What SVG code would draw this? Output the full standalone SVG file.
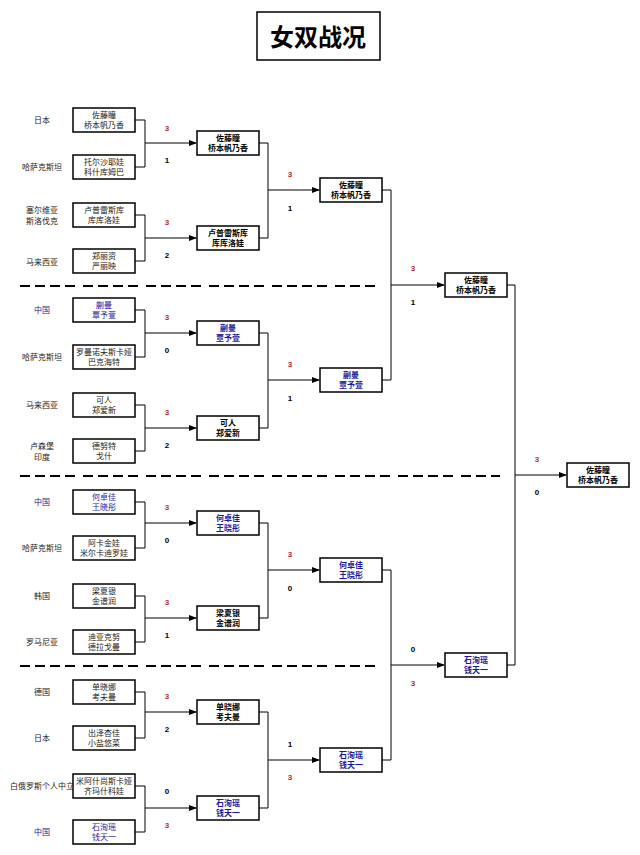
<svg xmlns="http://www.w3.org/2000/svg" width="640" height="855" viewBox="0 0 640 855">
<style>
text{font-family:"Liberation Sans","Noto Sans CJK SC",sans-serif;font-size:8px;text-anchor:middle}
.b{fill:#fff;stroke:#000;stroke-width:1.5}
.n{fill:#222}
.bl{fill:#1a1aa0}
.w{font-weight:bold}
.r{fill:#c0282a;font-weight:bold}
.k{fill:#000;font-weight:bold}
.c{fill:none;stroke:#000;stroke-width:1}
.d{stroke:#000;stroke-width:2;stroke-dasharray:10 5 10 5 10 5 10 8}
</style>
<defs><marker id="a" markerWidth="8" markerHeight="8" refX="7" refY="4" orient="auto" markerUnits="userSpaceOnUse"><path d="M0,1 L8,4 L0,7z" fill="#000"/></marker></defs>
<rect x="257" y="12" width="123" height="48" fill="#fff" stroke="#000" stroke-width="1.5"/>
<text x="318" y="46" style="font-size:24px;font-weight:bold">女双战况</text>
<g id="sep"><line class="d" x1="20" y1="286" x2="377" y2="286"/><line class="d" x1="20" y1="476" x2="500" y2="476"/><line class="d" x1="20" y1="666" x2="377" y2="666"/></g>
<g id="countries">
<text x="42" y="123" class="n">日本</text>
<text x="42" y="170" class="n">哈萨克斯坦</text>
<text x="42" y="213" class="n">塞尔维亚</text><text x="42" y="224" class="n">斯洛伐克</text>
<text x="42" y="265" class="n">马来西亚</text>
<text x="42" y="313" class="bl">中国</text>
<text x="42" y="360" class="n">哈萨克斯坦</text>
<text x="42" y="408" class="n">马来西亚</text>
<text x="42" y="449" class="n">卢森堡</text><text x="42" y="460" class="n">印度</text>
<text x="42" y="505" class="bl">中国</text>
<text x="42" y="551" class="n">哈萨克斯坦</text>
<text x="42" y="599" class="n">韩国</text>
<text x="42" y="645" class="n">罗马尼亚</text>
<text x="42" y="695" class="n">德国</text>
<text x="42" y="741" class="n">日本</text>
<text x="42" y="789" class="n">白俄罗斯个人中立</text>
<text x="42" y="835" class="bl">中国</text>
</g>
<g id="connectors">
<path class="c" d="M135,120H145V167H135M145,143H196" marker-end="url(#a)"/>
<path class="c" d="M135,215H145V261H135M145,238H196" marker-end="url(#a)"/>
<path class="c" d="M135,310H145V357H135M145,333H196" marker-end="url(#a)"/>
<path class="c" d="M135,405H145V451H135M145,428H196" marker-end="url(#a)"/>
<path class="c" d="M135,502H145V548H135M145,523H196" marker-end="url(#a)"/>
<path class="c" d="M135,596H145V642H135M145,618H196" marker-end="url(#a)"/>
<path class="c" d="M135,692H145V738H135M145,712H196" marker-end="url(#a)"/>
<path class="c" d="M135,786H145V832H135M145,808H196" marker-end="url(#a)"/>
<path class="c" d="M259,143H268V238H259M268,190H319" marker-end="url(#a)"/>
<path class="c" d="M259,333H268V428H259M268,380H319" marker-end="url(#a)"/>
<path class="c" d="M259,523H268V618H259M268,570H319" marker-end="url(#a)"/>
<path class="c" d="M259,712H268V808H259M268,760H319" marker-end="url(#a)"/>
<path class="c" d="M382,190H391V380H382M391,285H444" marker-end="url(#a)"/>
<path class="c" d="M382,570H391V760H382M391,665H444" marker-end="url(#a)"/>
<path class="c" d="M507,285H515V665H507M515,475H566" marker-end="url(#a)"/>
</g>
<g id="scores">
<text x="167" y="131" class="r">3</text><text x="167" y="163" class="k">1</text>
<text x="167" y="225" class="r">3</text><text x="167" y="258" class="k">2</text>
<text x="167" y="320" class="r">3</text><text x="167" y="353" class="k">0</text>
<text x="167" y="415" class="r">3</text><text x="167" y="448" class="k">2</text>
<text x="167" y="510" class="r">3</text><text x="167" y="543" class="k">0</text>
<text x="167" y="605" class="r">3</text><text x="167" y="638" class="k">1</text>
<text x="167" y="699" class="r">3</text><text x="167" y="732" class="k">2</text>
<text x="167" y="794" class="k">0</text><text x="167" y="828" class="r">3</text>
<text x="290" y="177" class="r">3</text><text x="290" y="211" class="k">1</text>
<text x="290" y="367" class="r">3</text><text x="290" y="401" class="k">1</text>
<text x="290" y="557" class="r">3</text><text x="290" y="591" class="k">0</text>
<text x="290" y="747" class="k">1</text><text x="290" y="780" class="r">3</text>
<text x="413" y="271" class="r">3</text><text x="413" y="305" class="k">1</text>
<text x="413" y="652" class="k">0</text><text x="413" y="686" class="r">3</text>
<text x="537" y="462" class="r">3</text><text x="537" y="495" class="k">0</text>
</g>
<g id="r1">
<rect class="b" x="73" y="108" width="62" height="24"/><text x="104" y="118" class="n">佐藤瞳</text><text x="104" y="128" class="n">桥本帆乃香</text>
<rect class="b" x="73" y="155" width="62" height="24"/><text x="104" y="165" class="n">托尔沙耶娃</text><text x="104" y="175" class="n">科什库姆巴</text>
<rect class="b" x="73" y="203" width="62" height="24"/><text x="104" y="213" class="n">卢普雷斯库</text><text x="104" y="223" class="n">库库洛娃</text>
<rect class="b" x="73" y="249" width="62" height="24"/><text x="104" y="259" class="n">郑丽资</text><text x="104" y="269" class="n">严丽映</text>
<rect class="b" x="73" y="298" width="62" height="24"/><text x="104" y="308" class="bl">蒯曼</text><text x="104" y="318" class="bl">覃予萱</text>
<rect class="b" x="73" y="345" width="62" height="24"/><text x="104" y="355" class="n">罗曼诺夫斯卡娅</text><text x="104" y="365" class="n">巴克海特</text>
<rect class="b" x="73" y="393" width="62" height="24"/><text x="104" y="403" class="n">可人</text><text x="104" y="413" class="n">郑爱新</text>
<rect class="b" x="73" y="439" width="62" height="24"/><text x="104" y="449" class="n">德努特</text><text x="104" y="459" class="n">戈什</text>
<rect class="b" x="73" y="490" width="62" height="24"/><text x="104" y="500" class="bl">何卓佳</text><text x="104" y="510" class="bl">王晓彤</text>
<rect class="b" x="73" y="536" width="62" height="24"/><text x="104" y="546" class="n">阿卡金娃</text><text x="104" y="556" class="n">米尔卡迪罗娃</text>
<rect class="b" x="73" y="584" width="62" height="24"/><text x="104" y="594" class="n">梁夏银</text><text x="104" y="604" class="n">金谱润</text>
<rect class="b" x="73" y="630" width="62" height="24"/><text x="104" y="640" class="n">迪亚克努</text><text x="104" y="650" class="n">德拉戈曼</text>
<rect class="b" x="73" y="680" width="62" height="24"/><text x="104" y="690" class="n">单晓娜</text><text x="104" y="700" class="n">考夫曼</text>
<rect class="b" x="73" y="726" width="62" height="24"/><text x="104" y="736" class="n">出泽杏佳</text><text x="104" y="746" class="n">小盐悠菜</text>
<rect class="b" x="73" y="774" width="62" height="24"/><text x="104" y="784" class="n">米阿什尚斯卡娅</text><text x="104" y="794" class="n">齐玛什科娃</text>
<rect class="b" x="73" y="820" width="62" height="24"/><text x="104" y="830" class="bl">石洵瑶</text><text x="104" y="840" class="bl">钱天一</text>
</g>
<g id="r2" class="w">
<rect class="b" x="197" y="131" width="62" height="24"/><text x="228" y="141" class="k">佐藤瞳</text><text x="228" y="151" class="k">桥本帆乃香</text>
<rect class="b" x="197" y="226" width="62" height="24"/><text x="228" y="236" class="k">卢普雷斯库</text><text x="228" y="246" class="k">库库洛娃</text>
<rect class="b" x="197" y="321" width="62" height="24"/><text x="228" y="331" class="bl w">蒯曼</text><text x="228" y="341" class="bl w">覃予萱</text>
<rect class="b" x="197" y="416" width="62" height="24"/><text x="228" y="426" class="k">可人</text><text x="228" y="436" class="k">郑爱新</text>
<rect class="b" x="197" y="511" width="62" height="24"/><text x="228" y="521" class="bl w">何卓佳</text><text x="228" y="531" class="bl w">王晓彤</text>
<rect class="b" x="197" y="606" width="62" height="24"/><text x="228" y="616" class="k">梁夏银</text><text x="228" y="626" class="k">金谱润</text>
<rect class="b" x="197" y="700" width="62" height="24"/><text x="228" y="710" class="k">单晓娜</text><text x="228" y="720" class="k">考夫曼</text>
<rect class="b" x="197" y="796" width="62" height="24"/><text x="228" y="806" class="bl w">石洵瑶</text><text x="228" y="816" class="bl w">钱天一</text>
</g>
<g id="r3">
<rect class="b" x="320" y="178" width="62" height="24"/><text x="351" y="188" class="k">佐藤瞳</text><text x="351" y="198" class="k">桥本帆乃香</text>
<rect class="b" x="320" y="368" width="62" height="24"/><text x="351" y="378" class="bl w">蒯曼</text><text x="351" y="388" class="bl w">覃予萱</text>
<rect class="b" x="320" y="558" width="62" height="24"/><text x="351" y="568" class="bl w">何卓佳</text><text x="351" y="578" class="bl w">王晓彤</text>
<rect class="b" x="320" y="748" width="62" height="24"/><text x="351" y="758" class="bl w">石洵瑶</text><text x="351" y="768" class="bl w">钱天一</text>
</g>
<g id="r4">
<rect class="b" x="445" y="273" width="62" height="24"/><text x="476" y="283" class="k">佐藤瞳</text><text x="476" y="293" class="k">桥本帆乃香</text>
<rect class="b" x="445" y="653" width="62" height="24"/><text x="476" y="663" class="bl w">石洵瑶</text><text x="476" y="673" class="bl w">钱天一</text>
</g>
<g id="final">
<rect class="b" x="567" y="463" width="62" height="24"/><text x="598" y="473" class="k">佐藤瞳</text><text x="598" y="483" class="k">桥本帆乃香</text>
</g>
</svg>
